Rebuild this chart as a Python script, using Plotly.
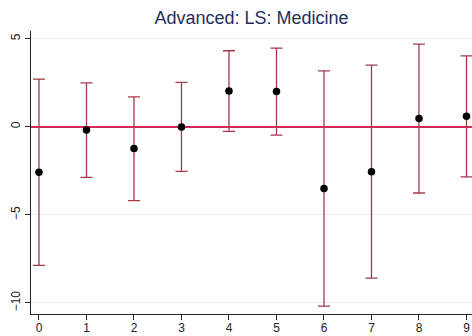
import plotly.graph_objects as go

x_vals = [0, 1, 2, 3, 4, 5, 6, 7, 8, 9]
estimates = [-2.59, -0.18, -1.24, -0.01, 2.03, 2.00, -3.51, -2.55, 0.47, 0.60]
ci_upper = [2.70, 2.49, 1.69, 2.51, 4.31, 4.46, 3.17, 3.49, 4.69, 4.02]
ci_lower = [-7.87, -2.87, -4.19, -2.53, -0.26, -0.48, -10.18, -8.59, -3.76, -2.85]
y_ticks = [-10, -5, 0, 5]
title_text = "Advanced: LS: Medicine"

err_plus = [u - e for u, e in zip(ci_upper, estimates)]
err_minus = [e - l for e, l in zip(estimates, ci_lower)]

fig = go.Figure()
fig.add_trace(go.Scatter(
    x=x_vals, y=estimates, mode="markers",
    marker=dict(color="black", size=7.5),
    error_y=dict(type="data", symmetric=False, array=err_plus, arrayminus=err_minus,
                 color="#a33a48", thickness=1.3, width=6),
    showlegend=False,
    cliponaxis=False,
))

fig.update_layout(
    width=472, height=336,
    margin=dict(l=31, r=0, t=31, b=22),
    paper_bgcolor="white", plot_bgcolor="white",
    font=dict(family="Liberation Sans, Arial, sans-serif", size=12, color="#222"),
    title=dict(text=title_text, x=0.533, xanchor="center", y=0.946, yanchor="middle",
               font=dict(size=18, color="#1f2f5c")),
)
fig.update_xaxes(
    range=[-0.168, 9.116], tickmode="array", tickvals=x_vals,
    showgrid=False, showline=True, linecolor="#222", linewidth=1.3,
    ticks="outside", ticklen=5, tickcolor="#222", zeroline=False,
    ticklabelstandoff=-3,
    automargin=False,
)
fig.update_yaxes(
    range=[-10.625, 5.43], tickmode="array", tickvals=y_ticks,
    tickangle=-90,
    showgrid=True, gridcolor="#e8f0f4", gridwidth=1,
    showline=True, linecolor="#222", linewidth=1.3,
    ticks="outside", ticklen=5, tickcolor="#222",
    zeroline=True, zerolinecolor="#d4285a", zerolinewidth=1.5,
    automargin=False,
)

fig.write_html(
    "out.html",
    config={"displayModeBar": False},
    post_script="document.body.style.margin='0';document.body.style.overflow='hidden';",
)
